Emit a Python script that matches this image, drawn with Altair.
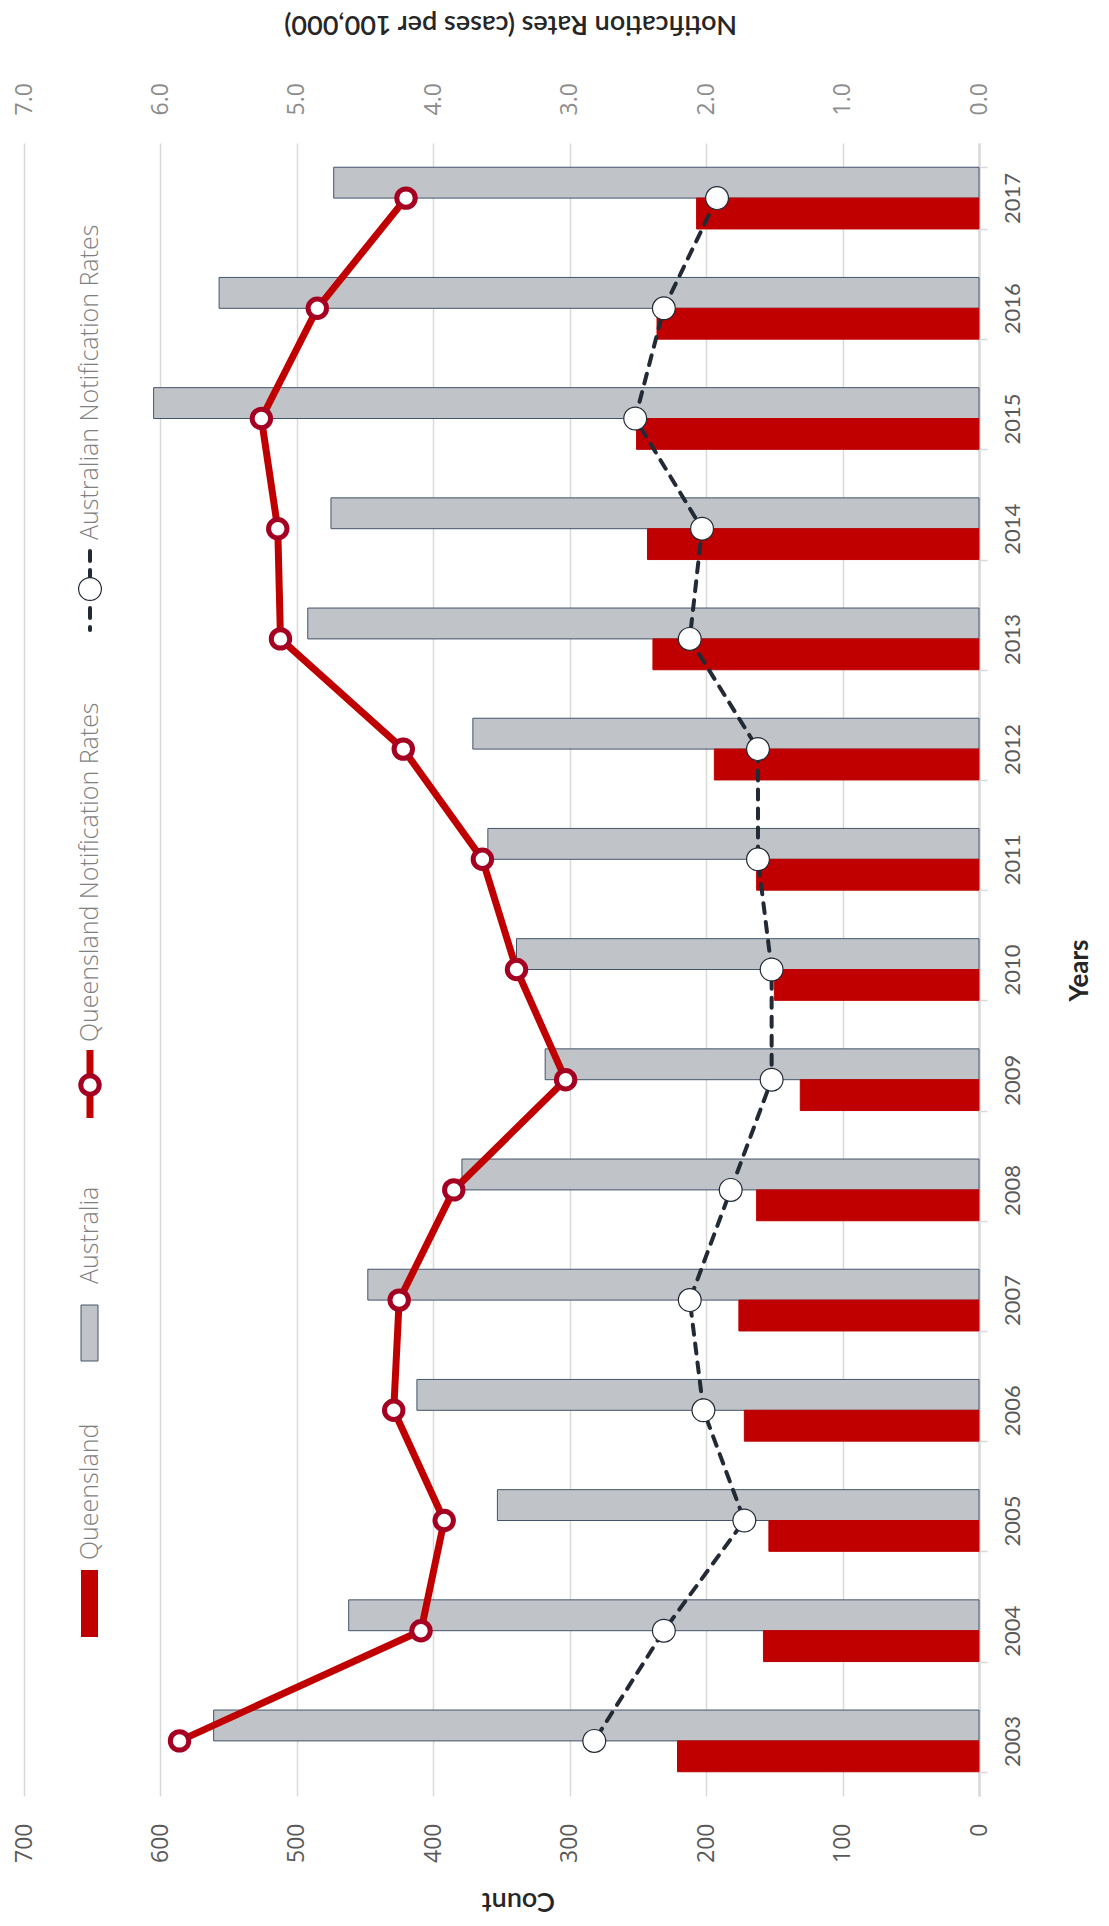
import altair as alt
import pandas as pd

years = list(range(2003, 2018))
qld_count = [221, 158, 154, 172, 176, 163, 131, 150, 163, 194, 239, 243, 251, 236, 207]
aus_count = [561, 462, 353, 412, 448, 379, 318, 339, 360, 371, 492, 475, 605, 557, 473]
qld_rate = [5.86, 4.09, 3.92, 4.29, 4.25, 3.85, 3.03, 3.39, 3.64, 4.22, 5.12, 5.14, 5.26, 4.85, 4.20]
aus_rate = [2.82, 2.31, 1.72, 2.02, 2.12, 1.82, 1.52, 1.52, 1.62, 1.62, 2.12, 2.03, 2.52, 2.31, 1.92]
series_names = ["Australia", "Queensland"]
legend_labels = ["Queensland", "Australia", "Queensland Notification Rates", "Australian Notification Rates"]
count_ticks = [0, 100, 200, 300, 400, 500, 600, 700]
rate_ticks = [0, 1, 2, 3, 4, 5, 6, 7]

RED = "#c00000"
RING = "#a50021"
NAVY = "#222a35"
HATCH = "#c0c3c8"
HATCH_EDGE = "#44546a"
GRID = "#d9d9d9"

bars_df = pd.DataFrame({
    "Year": years * 2,
    "Series": ["Australia"] * len(years) + ["Queensland"] * len(years),
    "Count": aus_count + qld_count,
})
rates_df = pd.DataFrame({"Year": years, "QLD": qld_rate, "AUS": aus_rate})

y_axis = alt.Axis(
    orient="right", title="Years", titleAngle=270, titleFont="Lato", titleFontSize=26,
    titleFontWeight="bold", titleColor="#262626", titleX=100, titleY=827,
    titleAlign="center", titleBaseline="middle",
    labelAngle=270, labelAlign="center", labelBaseline="middle", labelFont="Lato",
    labelFontSize=22, labelColor="#595959", labelPadding=25, labelOverlap=False,
    tickBand="extent", tickSize=8, tickColor=GRID, tickWidth=1.5,
    domainColor=GRID, domainWidth=2.5, grid=False,
)
Y = alt.Y("Year:O", sort="descending",
          scale=alt.Scale(paddingInner=0.44, paddingOuter=0.22), axis=y_axis)

count_axis = alt.Axis(
    orient="bottom", values=count_ticks, format="d", title="Count", titleAngle=180,
    titleX=494, titleY=104, titleAlign="center", titleBaseline="middle",
    titleFont="Lato", titleFontSize=27, titleFontWeight=600, titleColor="#262626",
    labelAngle=270, labelAlign="right", labelBaseline="middle", labelPadding=27,
    labelFont="Open Sans", labelFontSize=23, labelColor="#595959",
    labelFlush=False, labelOverlap=False, ticks=False, domain=False,
    grid=True, gridColor=GRID, gridWidth=1.5,
)

rate_axis = alt.Axis(
    orient="top", values=rate_ticks, format=".1f",
    title="Notification Rates (cases per 100,000)", titleAngle=180,
    titleX=486, titleY=-120, titleAlign="center", titleBaseline="middle",
    titleFont="Lato", titleFontSize=27, titleFontWeight=600, titleColor="#262626",
    labelAngle=270, labelAlign="left", labelBaseline="middle", labelPadding=28,
    labelFont="Open Sans", labelFontSize=23, labelColor="#8c8c8c",
    labelFlush=False, labelOverlap=False, ticks=False, domain=False, grid=False,
)
rate_scale = alt.Scale(domain=[0, 7], reverse=True, nice=False)

bars = alt.Chart(bars_df).mark_bar(strokeWidth=1).encode(
    y=Y,
    yOffset=alt.YOffset("Series:N", sort=series_names),
    x=alt.X("Count:Q", scale=alt.Scale(domain=[0, 700], reverse=True, nice=False), axis=count_axis),
    color=alt.Color("Series:N", scale=alt.Scale(domain=series_names, range=[HATCH, RED]), legend=None),
    stroke=alt.Stroke("Series:N", scale=alt.Scale(domain=series_names, range=[HATCH_EDGE, RED]), legend=None),
)

AUS_SIZE = 520
QLD_SIZE = 340
base = alt.Chart(rates_df)
aus_line = base.mark_line(color=NAVY, strokeWidth=4, strokeDash=[10, 9], strokeCap="round").encode(
    y=Y, x=alt.X("AUS:Q", scale=rate_scale, axis=rate_axis))
aus_pts = base.mark_circle(size=AUS_SIZE, fill="white", stroke=NAVY, strokeWidth=1.2, opacity=1).encode(
    y=Y, x=alt.X("AUS:Q", scale=rate_scale, axis=rate_axis))
qld_line = base.mark_line(color=RED, strokeWidth=7).encode(
    y=Y, x=alt.X("QLD:Q", scale=rate_scale, axis=rate_axis))
qld_pts = base.mark_circle(size=QLD_SIZE, fill="white", stroke=RING, strokeWidth=5, opacity=1).encode(
    y=Y, x=alt.X("QLD:Q", scale=rate_scale, axis=rate_axis))

rates = alt.layer(aus_line, aus_pts, qld_line, qld_pts)

# manual rotated legend
one = pd.DataFrame({"k": [0]})


def legend_text(label, xr, yr):
    return alt.Chart(pd.DataFrame({"t": [label]})).mark_text(
        angle=270, align="left", baseline="middle", font="Open Sans", fontSize=25,
        fontWeight=300, color="#7f7f7f",
    ).encode(x=alt.value(xr), y=alt.value(yr), text="t:N")


leg = [
    alt.Chart(one).mark_rect(color=RED).encode(
        x=alt.value(57), x2=alt.value(74), y=alt.value(1427), y2=alt.value(1494)),
    legend_text(legend_labels[0], 66, 1417),
    alt.Chart(one).mark_rect(fill=HATCH, stroke=HATCH_EDGE, strokeWidth=1).encode(
        x=alt.value(57), x2=alt.value(74), y=alt.value(1162), y2=alt.value(1218)),
    legend_text(legend_labels[1], 66, 1141),
    alt.Chart(one).mark_rule(color=RED, strokeWidth=7).encode(
        x=alt.value(66), y=alt.value(907), y2=alt.value(975)),
    alt.Chart(one).mark_circle(size=QLD_SIZE, fill="white", stroke=RING, strokeWidth=5, opacity=1).encode(
        x=alt.value(66), y=alt.value(942)),
    legend_text(legend_labels[2], 66, 899),
    alt.Chart(one).mark_rule(color=NAVY, strokeWidth=4, strokeDash=[10, 9], strokeCap="round").encode(
        x=alt.value(66), y=alt.value(408), y2=alt.value(487)),
    alt.Chart(one).mark_circle(size=AUS_SIZE, fill="white", stroke=NAVY, strokeWidth=1.2, opacity=1).encode(
        x=alt.value(66), y=alt.value(446)),
    legend_text(legend_labels[3], 66, 397),
]

chart = alt.layer(bars, rates, *leg).resolve_scale(x="independent").properties(
    width=955, height=1653,
    autosize=alt.AutoSizeParams(type="none"),
    padding={"left": 16, "top": 135, "right": 120, "bottom": 122},
).configure_view(stroke=None)

chart.save("out.html", embed_options={"renderer": "svg", "actions": False})
